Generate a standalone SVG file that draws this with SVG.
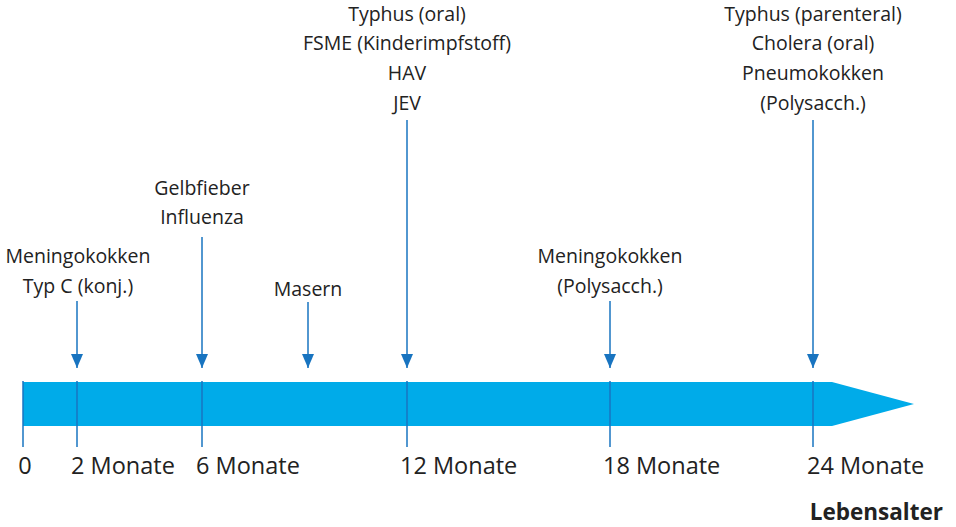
<svg xmlns="http://www.w3.org/2000/svg" width="956" height="527" viewBox="0 0 956 527">
<defs>
<style>
text{font-family:"Open Sans","Noto Sans",sans-serif;font-size:19.5px;fill:#222}
.c{text-anchor:middle}
.ax{font-size:23.5px}
.tick{stroke:#1874c0;stroke-width:1.5}
.arr{stroke:#1874c0;stroke-width:1.5;fill:none;marker-end:url(#ah)}
</style>
<marker id="ah" viewBox="0 0 14 12" refX="14" refY="6" markerWidth="14" markerHeight="12" markerUnits="userSpaceOnUse" orient="auto">
<path d="M0,0 L14,6 L0,12 Z" fill="#1874c0"/>
</marker>
</defs>
<g id="axis">
<path d="M23,382 H832 L914,404 L832,426 H23 Z" fill="#00abe9"/>
</g>
<g id="connectors">
<line class="tick" x1="23" y1="381" x2="23" y2="447"/>
<line class="tick" x1="77" y1="381" x2="77" y2="447"/>
<line class="tick" x1="202" y1="381" x2="202" y2="447"/>
<line class="tick" x1="407" y1="381" x2="407" y2="447"/>
<line class="tick" x1="610" y1="381" x2="610" y2="447"/>
<line class="tick" x1="813" y1="381" x2="813" y2="447"/>
<line class="arr" x1="77" y1="301" x2="77" y2="368"/>
<line class="arr" x1="202" y1="237" x2="202" y2="368"/>
<line class="arr" x1="308" y1="302" x2="308" y2="368"/>
<line class="arr" x1="407" y1="120" x2="407" y2="368"/>
<line class="arr" x1="610" y1="301" x2="610" y2="368"/>
<line class="arr" x1="813" y1="120" x2="813" y2="368"/>
</g>
<g id="n-menc"><text class="c" x="78" y="263">Meningokokken</text><text class="c" x="78" y="293">Typ C (konj.)</text></g>
<g id="n-gelb"><text class="c" x="202" y="195">Gelbfieber</text><text class="c" x="202" y="224">Influenza</text></g>
<g id="n-masern"><text class="c" x="308" y="296">Masern</text></g>
<g id="n-12"><text class="c" x="407" y="21">Typhus (oral)</text><text class="c" x="407" y="50">FSME (Kinderimpfstoff)</text><text class="c" x="407" y="80">HAV</text><text class="c" x="407" y="110">JEV</text></g>
<g id="n-18"><text class="c" x="610" y="263">Meningokokken</text><text class="c" x="610" y="293">(Polysacch.)</text></g>
<g id="n-24"><text class="c" x="813" y="21">Typhus (parenteral)</text><text class="c" x="813" y="50">Cholera (oral)</text><text class="c" x="813" y="80">Pneumokokken</text><text class="c" x="813" y="110">(Polysacch.)</text></g>
<g id="labels">
<text class="c ax" x="25" y="474">0</text>
<text class="ax" x="71" y="474">2 Monate</text>
<text class="ax" x="196" y="474">6 Monate</text>
<text class="ax" x="400" y="474">12 Monate</text>
<text class="ax" x="603" y="474">18 Monate</text>
<text class="ax" x="807" y="474">24 Monate</text>
<text class="ax" x="943" y="520" style="font-weight:bold;text-anchor:end;font-size:22.5px">Lebensalter</text>
</g>
</svg>
